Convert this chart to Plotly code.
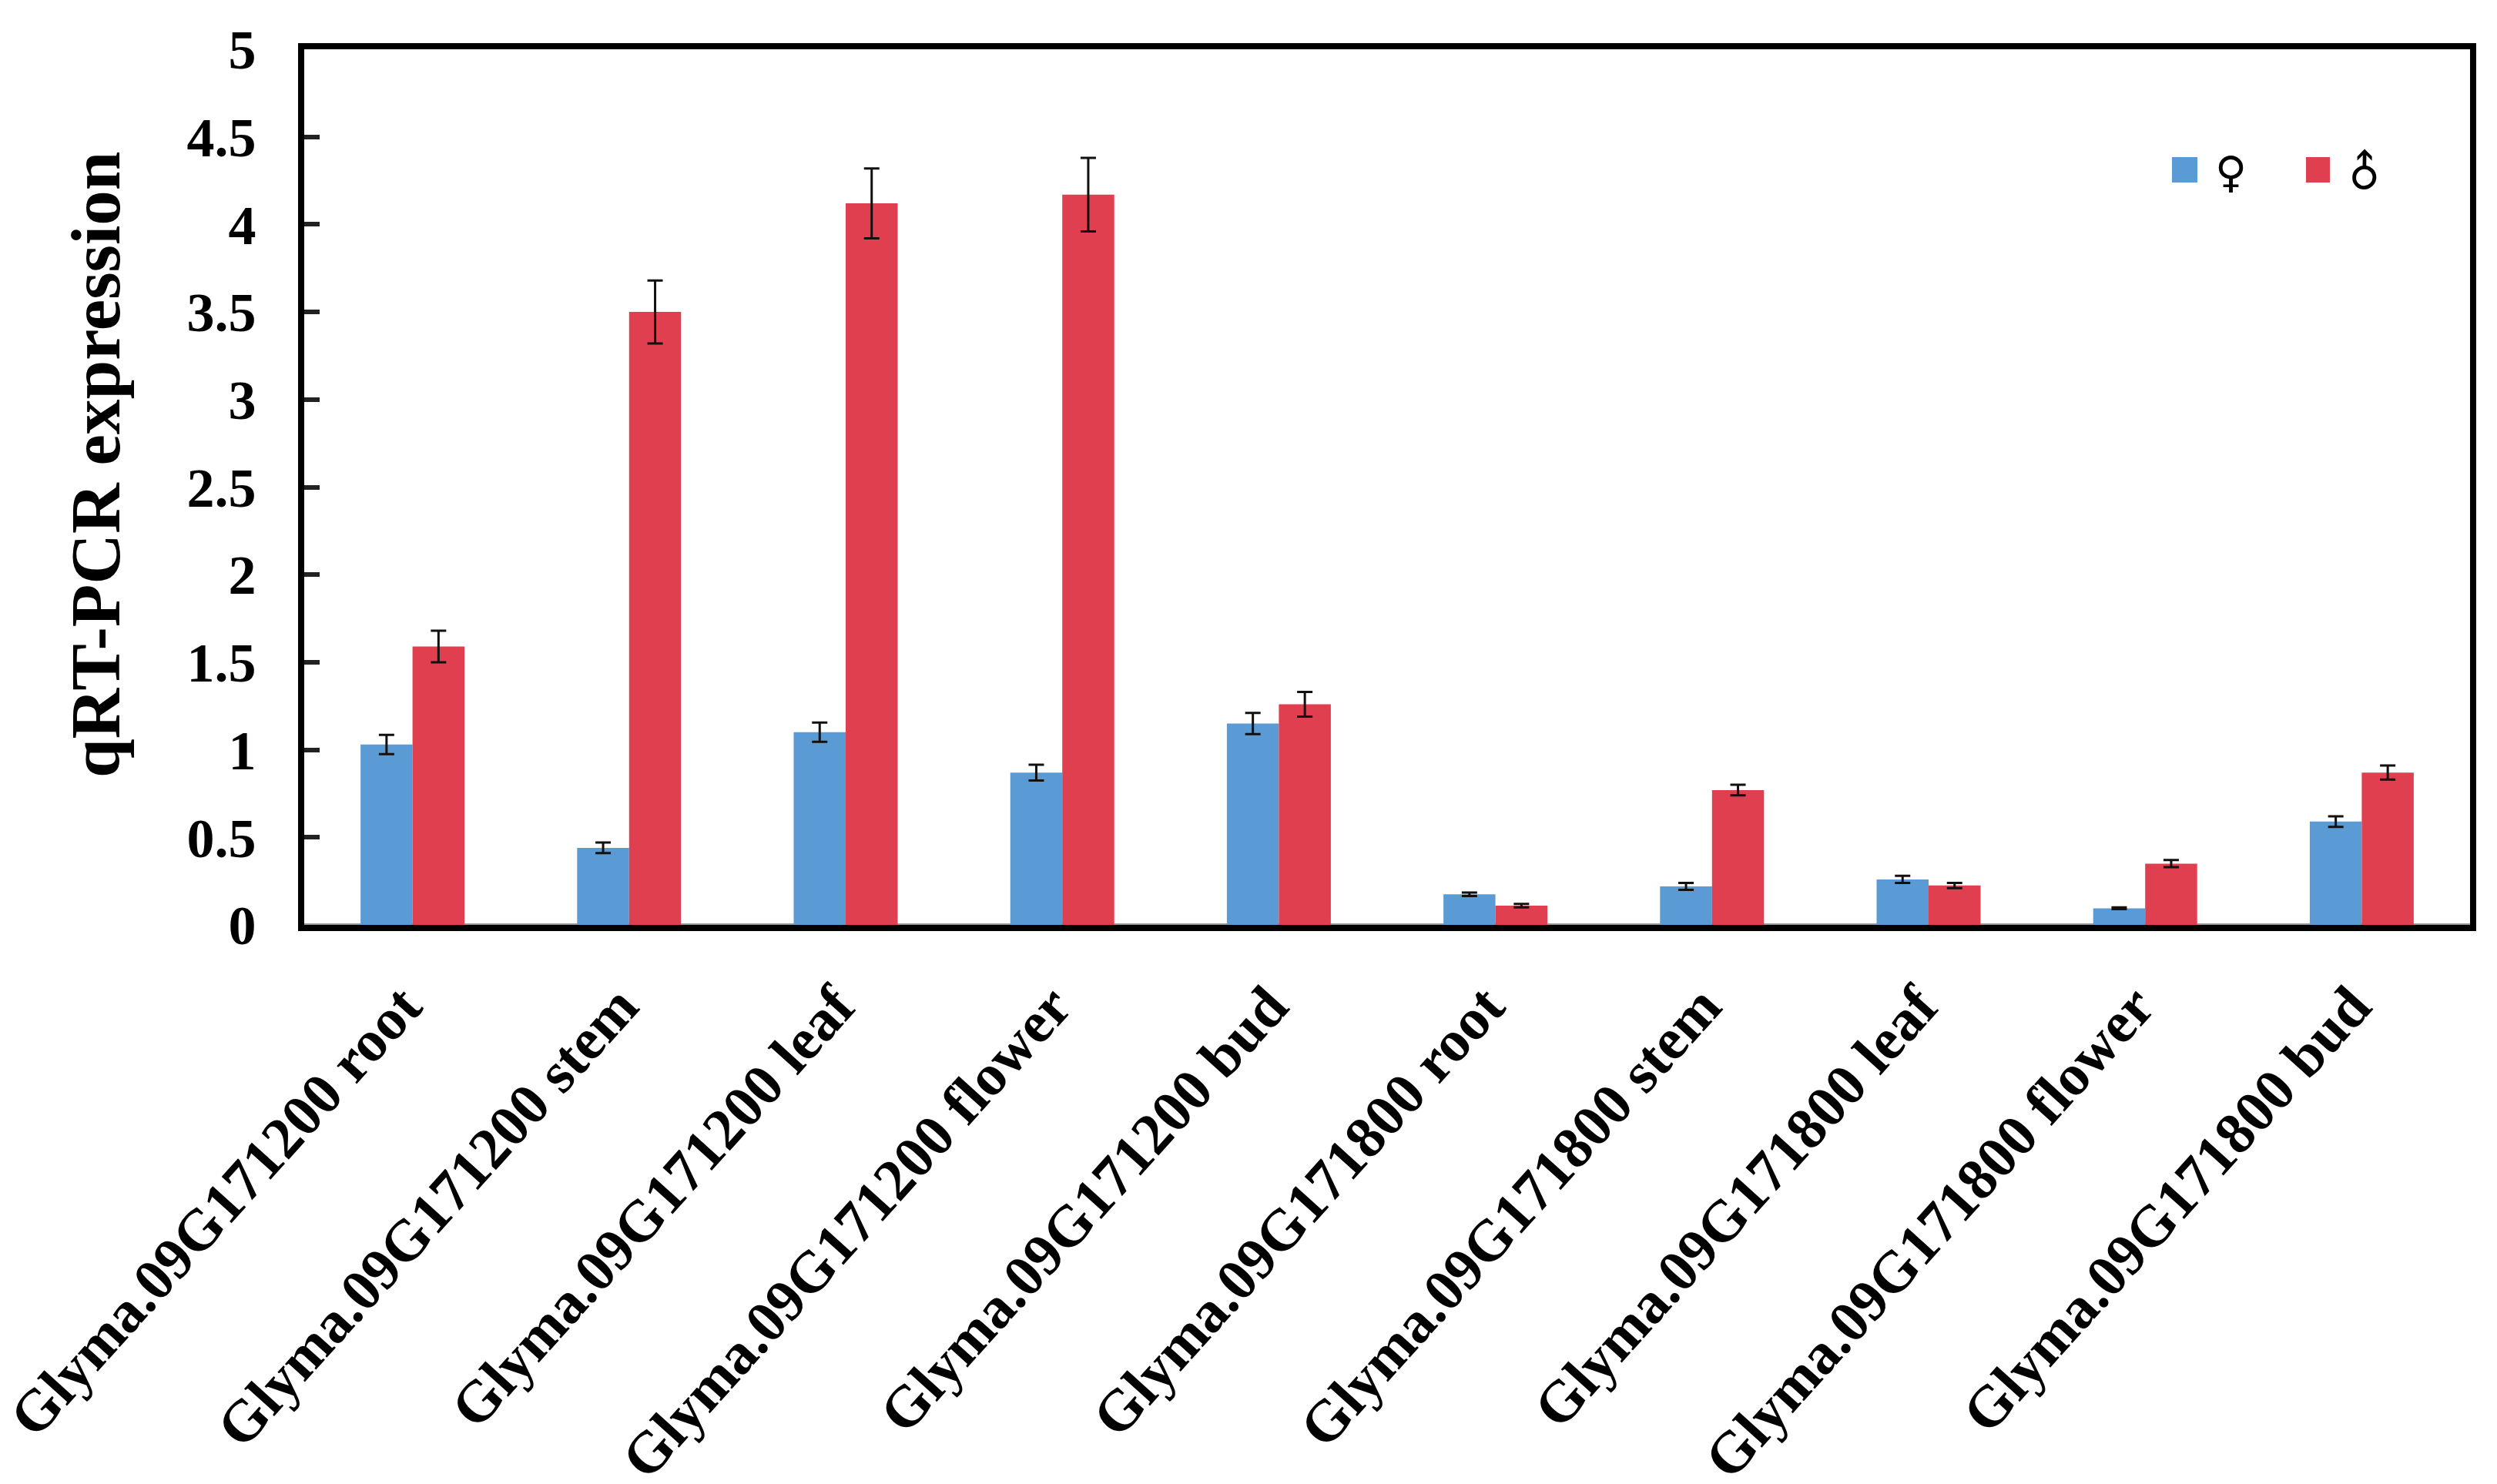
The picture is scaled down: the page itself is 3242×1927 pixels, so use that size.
import plotly.graph_objects as go

categories = ["Glyma.09G171200 root", "Glyma.09G171200 stem", "Glyma.09G171200 leaf",
              "Glyma.09G171200 flower", "Glyma.09G171200 bud", "Glyma.09G171800 root",
              "Glyma.09G171800 stem", "Glyma.09G171800 leaf", "Glyma.09G171800 flower",
              "Glyma.09G171800 bud"]
female = [1.03, 0.44, 1.10, 0.87, 1.15, 0.175, 0.22, 0.26, 0.095, 0.59]
male = [1.59, 3.50, 4.12, 4.17, 1.26, 0.11, 0.77, 0.225, 0.35, 0.87]
female_err = [0.055, 0.03, 0.055, 0.045, 0.06, 0.01, 0.02, 0.02, 0.005, 0.03]
male_err = [0.09, 0.18, 0.20, 0.21, 0.07, 0.01, 0.03, 0.015, 0.02, 0.04]
y_ticks = [0, 0.5, 1, 1.5, 2, 2.5, 3, 3.5, 4, 4.5, 5]
y_labels = ["0", "0.5", "1", "1.5", "2", "2.5", "3", "3.5", "4", "4.5", "5"]

# The page body adds an 8 px margin, so the figure is 8 px smaller than the window.
OFF = 8
W, H = 3242 - OFF, 1927 - OFF
L, R, T, B = 395 - OFF, 3207 - OFF, 64 - OFF, 1201 - OFF
FONT = "Liberation Serif"
BLUE, RED = "#5B9BD5", "#E03F4F"


def px(x):
    return (x - OFF - L) / (R - L)


def py(y):
    return (B - (y - OFF)) / (B - T)


fig = go.Figure()
for name, vals, errs, col in [("♀", female, female_err, BLUE), ("♂", male, male_err, RED)]:
    fig.add_bar(x=categories, y=vals, name=name, marker=dict(color=col, line=dict(width=0)),
                error_y=dict(type="data", array=errs, visible=True, color="#111111",
                             thickness=3, width=10))

shapes = [
    dict(type="rect", xref="paper", yref="paper", x0=px(2820), x1=px(2853), y0=py(237), y1=py(204),
         fillcolor=BLUE, line=dict(width=0)),
    dict(type="rect", xref="paper", yref="paper", x0=px(2994), x1=px(3025), y0=py(237), y1=py(204),
         fillcolor=RED, line=dict(width=0)),
]
annotations = [
    dict(text="♀", xref="paper", yref="paper", x=px(2896), y=py(224), showarrow=False,
         xanchor="center", yanchor="middle",
         font=dict(family="DejaVu Sans", size=56, color="black")),
    dict(text="♂", xref="paper", yref="paper", x=px(3070), y=py(224), showarrow=False, textangle=-45,
         xanchor="center", yanchor="middle",
         font=dict(family="DejaVu Sans", size=56, color="black")),
    dict(text="qRT-PCR expression", xref="paper", yref="paper", x=px(124), y=py(604), showarrow=False,
         textangle=-90, xanchor="center", yanchor="middle",
         font=dict(family=FONT, size=91, color="black", weight="bold")),
]

fig.update_layout(
    width=W, height=H, autosize=False,
    barmode="group", bargap=0.52, bargroupgap=0,
    plot_bgcolor="white", paper_bgcolor="white",
    showlegend=False,
    margin=dict(l=L, r=W - R, t=T, b=H - B, pad=0),
    font=dict(family=FONT, color="black"),
    shapes=shapes, annotations=annotations,
    xaxis=dict(type="category", showgrid=False, showline=True, mirror=True, linecolor="black",
               linewidth=8, ticks="", tickangle=-48, automargin=False, ticklabelstandoff=8,
               tickvals=categories, ticktext=[c + "\u00a0" for c in categories],
               tickfont=dict(family=FONT, size=76, color="black", weight="bold")),
    yaxis=dict(range=[0, 5], tickvals=y_ticks, ticktext=y_labels, showgrid=False, showline=True,
               mirror=True, linecolor="black", linewidth=8, ticks="inside", ticklen=20,
               tickwidth=6, tickcolor="#222222", zeroline=True, zerolinecolor="#999999",
               zerolinewidth=4, automargin=False, ticklabelstandoff=40,
               tickfont=dict(family=FONT, size=72, color="black", weight="bold")),
)
fig.write_html("out.html")
